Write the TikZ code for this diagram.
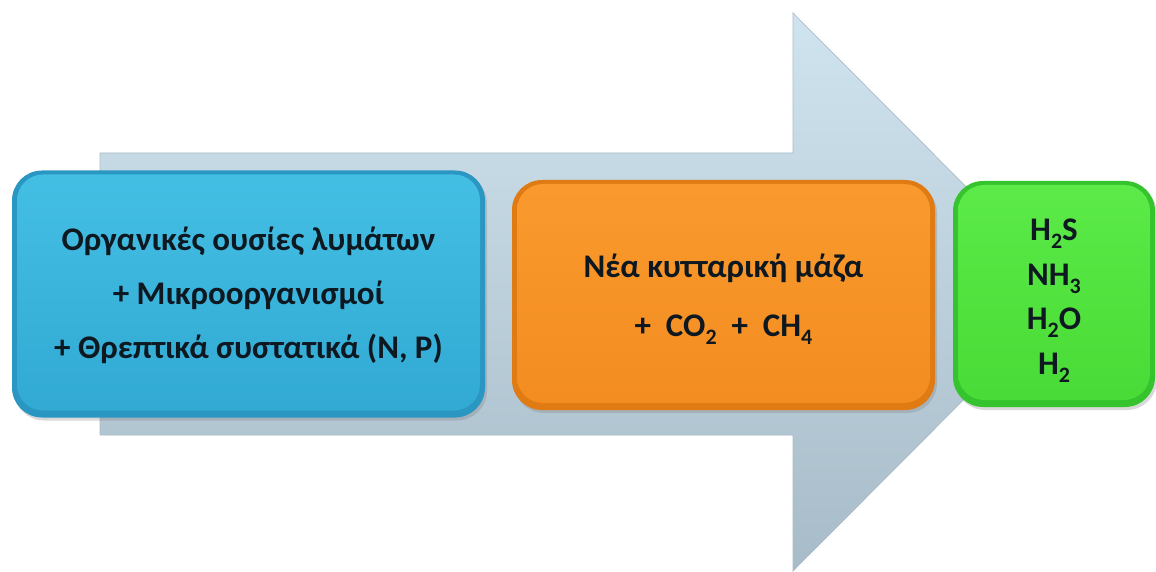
\documentclass[tikz,border=0pt]{standalone}
\usepackage{fontspec}
\setmainfont{Carlito}
\usetikzlibrary{shadows}
\definecolor{arrtop}{HTML}{D0E4EF}
\definecolor{arrbot}{HTML}{A8BBC8}
\definecolor{arredge}{HTML}{A9BCC8}
\definecolor{bluedark}{HTML}{2A96C2}
\definecolor{bluetop}{HTML}{44BFE4}
\definecolor{bluebot}{HTML}{31A9D3}
\definecolor{orangedark}{HTML}{E07A12}
\definecolor{orangetop}{HTML}{FA9A2E}
\definecolor{orangebot}{HTML}{F28C20}
\definecolor{greendark}{HTML}{36C42E}
\definecolor{greentop}{HTML}{5CEB48}
\definecolor{greenbot}{HTML}{48DA36}
\definecolor{txt}{HTML}{0E1820}
\newcommand{\sub}[1]{\raisebox{-0.5ex}{\fontsize{22}{22}\selectfont #1}}
\tikzset{
  card/.style args={#1/#2/#3}{rounded corners=30pt, fill=#1, text=txt,
    font=\bfseries, align=center, inner sep=0pt,
    drop shadow={opacity=0.3, shadow xshift=2pt, shadow yshift=-3pt},
    path picture={
      \shade[rounded corners=26pt, top color=#2, bottom color=#3]
        ([shift={(5pt,-4pt)}]path picture bounding box.north west) rectangle
        ([shift={(-5pt,7pt)}]path picture bounding box.south east);
    }},
}
\begin{document}
\begin{tikzpicture}[x=1pt,y=-1pt]
\useasboundingbox (0,0) rectangle (1156,572);
% big background arrow
\shade[top color=arrtop, bottom color=arrbot, draw=arredge, line width=0.7pt]
  (100,153) -- (793,153) -- (793,13) -- (1071,292) -- (793,571) -- (793,435) -- (100,435) -- cycle;
% boxes
\node[card=bluedark/bluetop/bluebot, minimum width=473pt, minimum height=247pt,
      font=\bfseries\fontsize{33}{54}\selectfont] (input) at (248.5,294)
  {\rule{0pt}{27pt}Οργανικές ουσίες λυμάτων\\+ Μικροοργανισμοί\\+ Θρεπτικά συστατικά (N, P)};
\node[card=orangedark/orangetop/orangebot, minimum width=423pt, minimum height=230pt,
      font=\bfseries\fontsize{33}{59}\selectfont] (mass) at (723.5,295)
  {\rule{0pt}{32pt}Νέα κυτταρική μάζα\\+~~CO\sub{2}~~+~~CH\sub{4}};
\node[card=greendark/greentop/greenbot, minimum width=202pt, minimum height=226pt,
      font=\bfseries\fontsize{33}{44.5}\selectfont] (gases) at (1054,294)
  {\rule{0pt}{35pt}H\sub{2}S\\NH\sub{3}\\H\sub{2}O\\H\sub{2}};
\end{tikzpicture}
\end{document}
